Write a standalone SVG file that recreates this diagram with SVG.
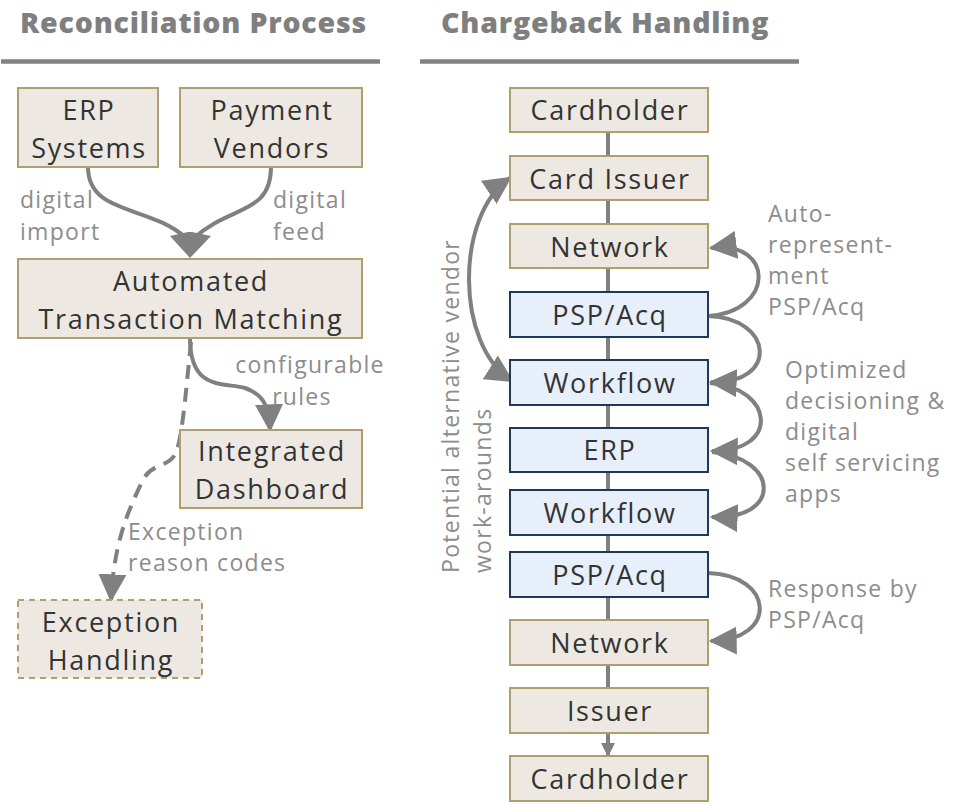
<svg xmlns="http://www.w3.org/2000/svg" width="961" height="807" viewBox="0 0 961 807">
  <style>
    .hdr { font-family: "Open Sans", Lato, "Liberation Sans", sans-serif; font-weight: 800; font-size: 28.5px; letter-spacing: 0.8px; fill: #7f7f7f; }
    .rule { stroke: #828282; stroke-width: 4.5; }
    .box { fill: #ede9e2; stroke: #b09f6e; stroke-width: 2; }
    .box-dash { fill: #ede9e2; stroke: #b09f6e; stroke-width: 2; stroke-dasharray: 6 5; }
    .blue { fill: #e6effa; stroke: #1d3a56; stroke-width: 2; }
    .t { font-family: "Open Sans", Lato, "Liberation Sans", sans-serif; font-weight: 400; font-size: 27px; letter-spacing: 1.7px; fill: #333333; text-anchor: middle; }
    .lbl { font-family: "Open Sans", Lato, "Liberation Sans", sans-serif; font-weight: 400; font-size: 23px; letter-spacing: 1.3px; fill: #8c8c8c; }
    .conn { fill: none; stroke: #808080; stroke-width: 4; }
    .dash { stroke-dasharray: 14 9; }
  </style>
  <defs>
    <marker id="head" markerUnits="userSpaceOnUse" markerWidth="28" markerHeight="28" viewBox="0 0 24 24" refX="22" refY="12" orient="auto-start-reverse">
      <path d="M0,0 L24,12 L0,24 z" fill="#808080"/>
    </marker>
    <marker id="small" markerUnits="userSpaceOnUse" markerWidth="14" markerHeight="14" viewBox="0 0 14 14" refX="13" refY="7" orient="auto">
      <path d="M0,0 L14,7 L0,14 z" fill="#808080"/>
    </marker>
  </defs>

  <!-- section headers -->
  <g id="header-reconciliation">
    <text class="hdr" x="20" y="33">Reconciliation Process</text>
    <line class="rule" x1="1" y1="61.5" x2="380" y2="61.5"/>
  </g>
  <g id="header-chargeback">
    <text class="hdr" x="441" y="33">Chargeback Handling</text>
    <line class="rule" x1="420" y1="61.5" x2="799" y2="61.5"/>
  </g>

  <!-- connectors -->
  <g id="connectors">
    <!-- reconciliation flow -->
    <path class="conn" d="M88,167 C88,215 150,205 186,238"/>
    <path class="conn" d="M271,167 C271,215 230,205 194,238"/>
    <polygon points="170,236 188,232 192,232 211,236 190,258" fill="#808080"/>
    <path class="conn" d="M190,338 C190,392 225,382 245,388 C262,394 269,404 270,430" marker-end="url(#head)"/>
    <path class="conn dash" d="M191,342 C186,390 183,430 177,450 C170,470 152,460 142,482 C126,515 114,545 111,600" marker-end="url(#head)"/>

    <!-- chargeback chain -->
    <line class="conn" x1="608" y1="132" x2="608" y2="733"/>
    <line class="conn" x1="608" y1="733" x2="608" y2="756" marker-end="url(#small)"/>
    <path class="conn" d="M510,178 C455,215 455,345 512,381" marker-start="url(#head)" marker-end="url(#head)"/>
    <path class="conn" d="M708,316 C775,312 775,240 711,248" marker-end="url(#head)"/>
    <path class="conn" d="M708,316 C775,318 778,385 711,382" marker-end="url(#head)"/>
    <path class="conn" d="M710,383 C775,388 780,452 712,451" marker-end="url(#head)"/>
    <path class="conn" d="M712,452 C780,458 782,520 712,517" marker-end="url(#head)"/>
    <path class="conn" d="M708,573 C775,575 778,640 711,641" marker-end="url(#head)"/>
  </g>

  <!-- connector labels -->
  <g id="labels">
    <text class="lbl" x="20" y="208">digital</text>
    <text class="lbl" x="20" y="240">import</text>
    <text class="lbl" x="273" y="208">digital</text>
    <text class="lbl" x="273" y="240">feed</text>
    <text class="lbl" x="310" y="373" text-anchor="middle">configurable</text>
    <text class="lbl" x="302" y="405" text-anchor="middle">rules</text>
    <text class="lbl" x="128" y="540">Exception</text>
    <text class="lbl" x="128" y="571">reason codes</text>
    <text class="lbl" transform="translate(459,573) rotate(-90)">Potential alternative vendor</text>
    <text class="lbl" transform="translate(491,573) rotate(-90)">work-arounds</text>
    <text class="lbl" x="768" y="222">Auto-</text>
    <text class="lbl" x="768" y="253">represent-</text>
    <text class="lbl" x="768" y="284">ment</text>
    <text class="lbl" x="768" y="315">PSP/Acq</text>
    <text class="lbl" x="785" y="378">Optimized</text>
    <text class="lbl" x="785" y="409">decisioning &amp;</text>
    <text class="lbl" x="785" y="440">digital</text>
    <text class="lbl" x="785" y="471">self servicing</text>
    <text class="lbl" x="785" y="502">apps</text>
    <text class="lbl" x="768" y="597">Response by</text>
    <text class="lbl" x="768" y="628">PSP/Acq</text>
  </g>

  <!-- reconciliation nodes -->
  <g id="erp-systems">
    <rect class="box" x="18" y="88" width="140" height="79"/>
    <text class="t" x="89" y="120">ERP</text>
    <text class="t" x="89" y="158">Systems</text>
  </g>
  <g id="payment-vendors">
    <rect class="box" x="180" y="88" width="182" height="79"/>
    <text class="t" x="272" y="120">Payment</text>
    <text class="t" x="272" y="158">Vendors</text>
  </g>
  <g id="transaction-matching">
    <rect class="box" x="18" y="259" width="344" height="79"/>
    <text class="t" x="191" y="291">Automated</text>
    <text class="t" x="191" y="329">Transaction Matching</text>
  </g>
  <g id="integrated-dashboard">
    <rect class="box" x="180" y="430" width="182" height="78"/>
    <text class="t" x="272" y="461">Integrated</text>
    <text class="t" x="272" y="499">Dashboard</text>
  </g>
  <g id="exception-handling">
    <rect class="box-dash" x="18" y="600" width="184" height="78"/>
    <text class="t" x="111" y="632">Exception</text>
    <text class="t" x="111" y="670">Handling</text>
  </g>

  <!-- chargeback nodes -->
  <g id="cardholder-start">
    <rect class="box" x="510" y="88" width="198" height="44"/>
    <text class="t" x="610" y="120">Cardholder</text>
  </g>
  <g id="card-issuer">
    <rect class="box" x="510" y="156" width="198" height="44"/>
    <text class="t" x="610" y="189">Card Issuer</text>
  </g>
  <g id="network-1">
    <rect class="box" x="510" y="224" width="198" height="44"/>
    <text class="t" x="610" y="257">Network</text>
  </g>
  <g id="psp-acq-1">
    <rect class="blue" x="510" y="292" width="198" height="45"/>
    <text class="t" x="610" y="325">PSP/Acq</text>
  </g>
  <g id="workflow-1">
    <rect class="blue" x="510" y="360" width="198" height="45"/>
    <text class="t" x="610" y="393">Workflow</text>
  </g>
  <g id="erp">
    <rect class="blue" x="510" y="428" width="198" height="44"/>
    <text class="t" x="610" y="460">ERP</text>
  </g>
  <g id="workflow-2">
    <rect class="blue" x="510" y="490" width="198" height="45"/>
    <text class="t" x="610" y="523">Workflow</text>
  </g>
  <g id="psp-acq-2">
    <rect class="blue" x="510" y="552" width="198" height="45"/>
    <text class="t" x="610" y="585">PSP/Acq</text>
  </g>
  <g id="network-2">
    <rect class="box" x="510" y="620" width="198" height="45"/>
    <text class="t" x="610" y="653">Network</text>
  </g>
  <g id="issuer">
    <rect class="box" x="510" y="688" width="198" height="45"/>
    <text class="t" x="610" y="721">Issuer</text>
  </g>
  <g id="cardholder-end">
    <rect class="box" x="510" y="756" width="198" height="45"/>
    <text class="t" x="610" y="789">Cardholder</text>
  </g>
</svg>
